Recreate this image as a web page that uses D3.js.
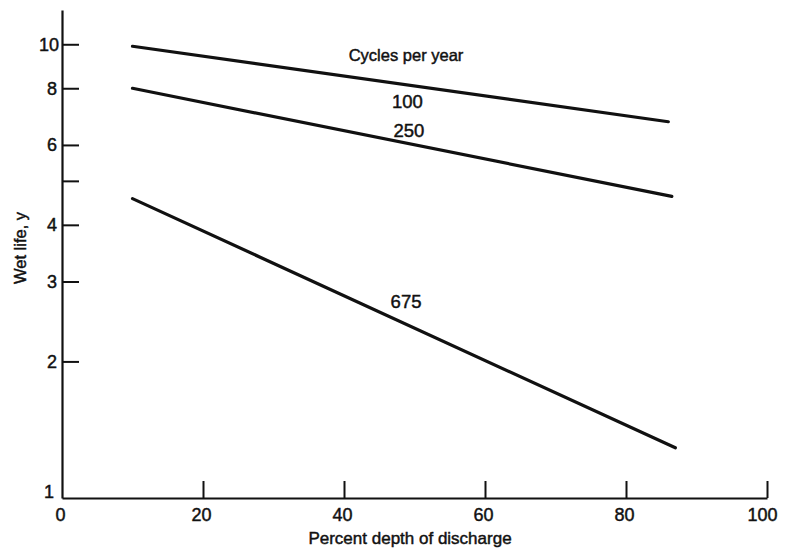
<!DOCTYPE html>
<html>
<head>
<meta charset="utf-8">
<script src="https://cdn.jsdelivr.net/npm/d3@7"></script>
<style>
  html, body { margin: 0; padding: 0; background: #fff; }
  svg { display: block; }
  text { font-family: "Liberation Sans", Arial, Helvetica, sans-serif; fill: #111; stroke: #111; stroke-width: 0.45px; }
</style>
</head>
<body>
<svg id="chart" width="787" height="549"></svg>
<script>
// ---- data ----
const series = ["100", "250", "675"];
const depthStart = [10, 10, 10];
const depthEnd = [86, 86.5, 87];
const lifeStart = [9.9, 8.0, 4.57];
const lifeEnd = [6.75, 4.62, 1.29];
const xTicks = [0, 20, 40, 60, 80, 100];
const yTicks = [1, 2, 3, 4, 5, 6, 8, 10];
const yTickLabels = ["1", "2", "3", "4", "", "6", "8", "10"];
const yAxisTop = 11.9;
const legendTitle = "Cycles per year";
const labelPos = [[49, 7.24], [49.2, 6.25], [48.8, 2.62]];

const svg = d3.select("#chart");
const x = d3.scaleLinear().domain([0, 100]).range([62, 767]);
const y = d3.scaleLog().domain([1, yAxisTop]).range([498, 10]);

// x axis
const xAxis = d3.axisBottom(x).tickValues(xTicks).tickSize(-17).tickSizeOuter(0).tickPadding(6).tickFormat(d3.format("d"));
const gx = svg.append("g").attr("transform", `translate(0,${y(1)})`).call(xAxis);
gx.select(".domain").attr("stroke", "#111").attr("stroke-width", 2.2);
gx.selectAll(".tick line").attr("stroke", "#111").attr("stroke-width", 2);
gx.selectAll(".tick text").attr("font-size", 18).attr("fill", "#111").attr("dy", "0.95em")
  .attr("font-family", '"Liberation Sans", Arial, sans-serif')
  .attr("dx", d => d === 0 ? -2 : (d === 100 ? -5 : -2));
gx.selectAll(".tick").filter(d => d === 0).select("line").remove();

// y axis
const yAxis = d3.axisLeft(y).tickValues(yTicks).tickSize(-17).tickSizeOuter(0).tickPadding(5)
  .tickFormat((d, i) => yTickLabels[i]);
const gy = svg.append("g").attr("transform", `translate(${x(0)},0)`).call(yAxis);
gy.select(".domain").attr("stroke", "#111").attr("stroke-width", 2.2);
gy.selectAll(".tick line").attr("stroke", "#111").attr("stroke-width", 2);
gy.selectAll(".tick text").attr("font-size", 18).attr("fill", "#111")
  .attr("font-family", '"Liberation Sans", Arial, sans-serif');
gy.selectAll(".tick").filter(d => d === 1).select("line").remove();
gy.selectAll(".tick").filter(d => d === 1).select("text").attr("dy", "-0.05em").attr("x", -8);
gy.selectAll(".tick").filter(d => d === 10).select("text").attr("x", -3);

// lines
const line = d3.line().x(d => x(d[0])).y(d => y(d[1]));
series.forEach((s, i) => {
  svg.append("path")
    .datum([[depthStart[i], lifeStart[i]], [depthEnd[i], lifeEnd[i]]])
    .attr("d", line)
    .attr("fill", "none")
    .attr("stroke", "#111")
    .attr("stroke-width", 3.2)
    .attr("stroke-linecap", "round");
  svg.append("text")
    .attr("x", x(labelPos[i][0]))
    .attr("y", y(labelPos[i][1]))
    .attr("text-anchor", "middle")
    .attr("font-size", 18.5)
    .text(s);
});

svg.append("text")
  .attr("x", 406)
  .attr("y", 61)
  .attr("text-anchor", "middle")
  .attr("font-size", 16.5)
  .text(legendTitle);

// axis titles
svg.append("text")
  .attr("x", 410)
  .attr("y", 544)
  .attr("text-anchor", "middle")
  .attr("font-size", 17)
  .text("Percent depth of discharge");

svg.append("text")
  .attr("transform", "translate(26,248) rotate(-90)")
  .attr("text-anchor", "middle")
  .attr("font-size", 16.5)
  .text("Wet life, y");
</script>
</body>
</html>
